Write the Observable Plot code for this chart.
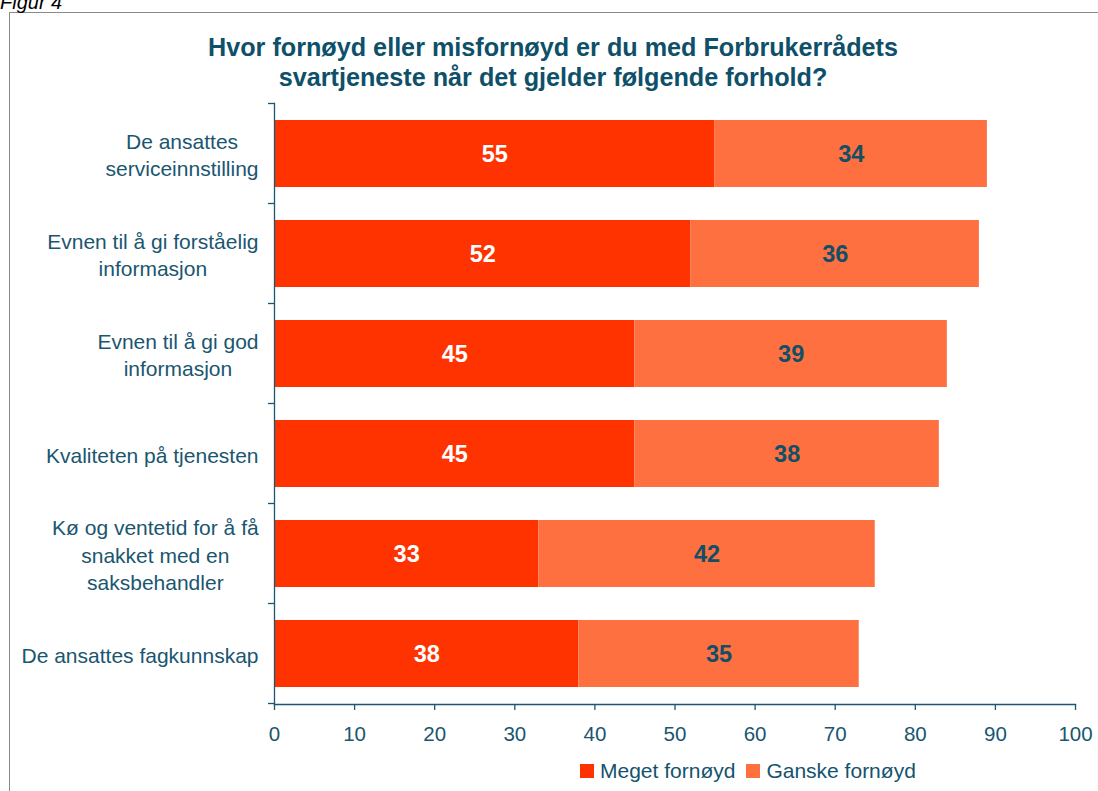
<!DOCTYPE html>
<html>
<head>
<meta charset="utf-8">
<script src="https://cdn.jsdelivr.net/npm/d3@7"></script>
<script src="https://cdn.jsdelivr.net/npm/@observablehq/plot@0.6"></script>
<style>
  html, body { margin: 0; padding: 0; background: #fff; overflow: hidden; }
  #wrap { position: relative; width: 1098px; height: 791px; font-family: "Liberation Sans", Arial, sans-serif; }
  #fig { position: absolute; left: 0; top: -9px; font-style: italic; font-size: 20px; color: #000; }
  #frame { position: absolute; left: 9px; top: 12px; width: 1200px; height: 900px; border: 1.5px solid #8a8a8a; box-sizing: border-box; }
  #title { position: absolute; left: 0; width: 1106px; top: 32px; text-align: center; font-weight: bold; font-size: 25.2px; line-height: 30px; color: #0e5069; }
  #chart { position: absolute; left: 0; top: 95px; }
  #legend { position: absolute; top: 759px; left: 580px; font-size: 21px; color: #14536c; display: flex; align-items: center; }
  #legend .sw { display: inline-block; width: 14px; height: 14px; margin-right: 6px; }
  #legend .it { display: flex; align-items: center; margin-right: 11px; }
</style>
</head>
<body>
<div id="wrap">
  <div id="frame"></div>
  <div id="fig">Figur 4</div>
  <div id="title">Hvor fornøyd eller misfornøyd er du med Forbrukerrådets<br>svartjeneste når det gjelder følgende forhold?</div>
  <div id="chart"></div>
  <div id="legend"></div>
</div>
<script>
const categories = [
  "De ansattes\nserviceinnstilling",
  "Evnen til å gi forståelig\ninformasjon",
  "Evnen til å gi god\ninformasjon",
  "Kvaliteten på tjenesten",
  "Kø og ventetid for å få\nsnakket med en\nsaksbehandler",
  "De ansattes fagkunnskap"
];
const seriesNames = ["Meget fornøyd", "Ganske fornøyd"];
const megetFornoyd = [55, 52, 45, 45, 33, 38];
const ganskeFornoyd = [34, 36, 39, 38, 42, 35];
const xTicks = [0, 10, 20, 30, 40, 50, 60, 70, 80, 90, 100];
const colors = ["#FF3300", "#FF7040"];
const textColors = ["#ffffff", "#124f66"];
const axisColor = "#1a5670";

const data = [];
categories.forEach((c, i) => {
  data.push({cat: c, series: seriesNames[0], value: megetFornoyd[i]});
  data.push({cat: c, series: seriesNames[1], value: ganskeFornoyd[i]});
});

const W = 1098, H = 660, MT = 8, MB = 51, ML = 274, MR = 23;
const padInner = 0.33, padOuter = 0.165;

// Boundary ticks between bands on the y axis (uses the y scale)
function bandBoundaryTicks(...args) {
  const scales = args.find(a => a && typeof a.y === "function");
  const y = scales.y;
  const n = categories.length;
  const step = y.step ? y.step() : (H - MT - MB) / (n - padInner + 2 * padOuter);
  const bw = y.bandwidth ? y.bandwidth() : step * (1 - padInner);
  const gap = (step - bw) / 2;
  const g = document.createElementNS("http://www.w3.org/2000/svg", "g");
  const ys = categories.map(c => y(c) - gap);
  ys.push(y(categories[n - 1]) + bw + gap);
  for (const yy of ys) {
    const l = document.createElementNS("http://www.w3.org/2000/svg", "line");
    l.setAttribute("x1", ML - 6); l.setAttribute("x2", ML);
    l.setAttribute("y1", yy); l.setAttribute("y2", yy);
    l.setAttribute("stroke", axisColor); l.setAttribute("stroke-width", 1.3);
    g.appendChild(l);
  }
  return g;
}

const chart = Plot.plot({
  width: W,
  height: H,
  marginTop: MT,
  marginBottom: MB,
  marginLeft: ML,
  marginRight: MR,
  style: {fontFamily: "Liberation Sans, Arial, sans-serif", fontSize: "20.5px", color: axisColor, background: "transparent", overflow: "visible"},
  x: {domain: [0, 100], ticks: xTicks},
  y: {domain: categories, paddingInner: padInner, paddingOuter: padOuter, label: null},
  color: {domain: seriesNames, range: colors},
  marks: [
    Plot.barX(data, Plot.stackX({x: "value", y: "cat", fill: "series", z: "series", order: null})),
    Plot.textX(data, Plot.stackX({x: "value", y: "cat", z: "series", order: null, text: d => String(d.value),
      fill: d => textColors[seriesNames.indexOf(d.series)], fontWeight: "bold", fontSize: 23.5})),
    Plot.frame({anchor: "left", stroke: axisColor, strokeWidth: 1.3}),
    Plot.frame({anchor: "bottom", stroke: axisColor, strokeWidth: 1.3}),
    Plot.axisX({ticks: xTicks, tickSize: 6, tickPadding: 16, label: null, stroke: axisColor, strokeWidth: 1.3, fill: axisColor, fontSize: 20.5}),
    Plot.axisY({tickSize: 0, tickPadding: 16, label: null, fill: axisColor, fontSize: 21, lineHeight: 1.3}),
    bandBoundaryTicks
  ]
});

document.getElementById("chart").appendChild(chart);

// Center multi-line y labels within their block, keeping right edge aligned
chart.querySelectorAll('g[aria-label="y-axis tick label"] text').forEach(t => {
  const spans = t.querySelectorAll("tspan");
  if (spans.length < 2) return;
  const bb = t.getBBox();
  const cx = bb.x + bb.width / 2;
  t.setAttribute("text-anchor", "middle");
  spans.forEach(s => s.setAttribute("x", cx));
});

const legend = document.getElementById("legend");
seriesNames.forEach((s, i) => {
  const it = document.createElement("span");
  it.className = "it";
  const sw = document.createElement("span");
  sw.className = "sw";
  sw.style.background = colors[i];
  it.appendChild(sw);
  it.appendChild(document.createTextNode(s));
  legend.appendChild(it);
});
</script>
</body>
</html>
